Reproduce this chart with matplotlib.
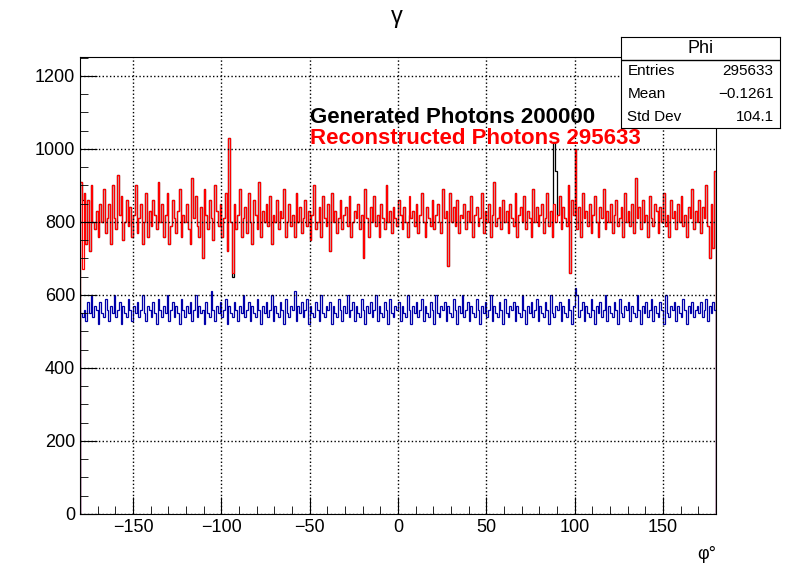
import numpy as np
import matplotlib
matplotlib.use("Agg")
import matplotlib.pyplot as plt
from matplotlib.ticker import MultipleLocator

plt.rcParams["font.family"] = "Liberation Sans"

# 1-degree bins, phi from -180 to 180
BIN_EDGES = np.arange(-180, 181, 1)

RECO = [
    910, 670, 880, 740, 860, 720, 900, 800, 780, 830, 760, 850, 800, 890, 770, 810, 850, 740, 900, 810,
    780, 930, 820, 870, 750, 800, 860, 790, 840, 760, 820, 900, 770, 810, 850, 740, 800, 880, 760, 830,
    790, 860, 820, 780, 910, 800, 850, 760, 820, 880, 740, 790, 860, 810, 770, 830, 890, 760, 820, 800,
    850, 780, 740, 920, 810, 870, 790, 760, 840, 700, 890, 820, 780, 860, 810, 750, 900, 830, 790, 850,
    760, 810, 880, 720, 1030, 800, 660, 850, 780, 820, 890, 760, 810, 840, 770, 880, 800, 740, 860, 820,
    780, 910, 760, 830, 800, 850, 790, 870, 740, 820, 800, 860, 780, 830, 810, 890, 760, 800, 850, 790,
    820, 760, 880, 800, 840, 770, 810, 860, 790, 830, 750, 820, 900, 780, 800, 840, 760, 870, 810, 790,
    850, 720, 880, 800, 830, 770, 810, 860, 780, 820, 840, 790, 870, 760, 800, 830, 810, 850, 780, 820,
    700, 890, 810, 760, 840, 800, 870, 790, 820, 760, 850, 810, 780, 900, 800, 830, 770, 840, 810, 790,
    860, 820, 780, 840, 800, 760, 870, 810, 830, 790, 850, 770, 820, 880, 800, 760, 840, 810, 790, 860,
    780, 820, 850, 800, 770, 890, 810, 830, 680, 880, 800, 840, 790, 860, 770, 820, 810, 850, 780, 830,
    800, 870, 760, 820, 840, 790, 810, 880, 770, 830, 800, 850, 760, 820, 910, 790, 810, 840, 780, 860,
    800, 830, 770, 850, 810, 790, 880, 760, 820, 840, 800, 870, 780, 830, 810, 760, 890, 800, 840, 790,
    820, 850, 770, 810, 880, 790, 830, 760, 850, 800, 820, 870, 780, 840, 810, 790, 900, 660, 860, 820,
    1000, 780, 840, 760, 880, 810, 830, 790, 850, 770, 820, 870, 800, 760, 840, 810, 890, 780, 830, 800,
    850, 770, 820, 860, 790, 810, 840, 760, 880, 800, 830, 790, 850, 770, 920, 810, 840, 780, 860, 800,
    820, 760, 870, 810, 790, 850, 830, 770, 840, 800, 880, 790, 820, 760, 860, 810, 830, 780, 850, 800,
    870, 790, 820, 760, 840, 810, 890, 780, 830, 800, 860, 770, 840, 810, 900, 790, 700, 850, 730, 940,
]
GEN = [
    550, 540, 560, 530, 580, 550, 600, 540, 570, 560, 520, 580, 550, 540, 590, 560, 530, 570, 550, 600,
    540, 560, 580, 520, 570, 550, 540, 590, 560, 530, 570, 550, 580, 540, 560, 600, 550, 530, 570, 560,
    540, 580, 550, 520, 590, 560, 540, 570, 550, 600, 530, 560, 580, 540, 570, 550, 520, 590, 560, 540,
    570, 550, 580, 530, 560, 600, 540, 570, 550, 560, 520, 580, 550, 540, 610, 560, 530, 570, 550, 580,
    540, 560, 590, 520, 570, 550, 540, 580, 560, 530, 570, 550, 600, 540, 560, 580, 530, 570, 550, 540,
    590, 560, 520, 570, 550, 580, 540, 560, 600, 530, 570, 550, 540, 580, 560, 520, 590, 550, 540, 570,
    560, 610, 530, 570, 550, 580, 540, 560, 590, 520, 570, 550, 540, 580, 560, 530, 600, 550, 540, 570,
    560, 580, 520, 570, 550, 540, 590, 560, 530, 570, 550, 600, 540, 560, 580, 530, 570, 550, 540, 590,
    560, 520, 570, 550, 580, 540, 560, 600, 530, 570, 550, 540, 580, 560, 520, 590, 550, 540, 570, 560,
    580, 530, 570, 550, 540, 600, 560, 520, 570, 550, 580, 540, 560, 590, 530, 570, 550, 540, 580, 560,
    520, 600, 550, 540, 570, 560, 580, 530, 570, 550, 540, 590, 560, 520, 570, 550, 600, 540, 560, 580,
    530, 570, 550, 540, 590, 560, 520, 570, 550, 580, 540, 560, 600, 530, 570, 550, 540, 580, 560, 520,
    590, 550, 540, 570, 560, 580, 530, 570, 550, 540, 600, 560, 520, 570, 550, 580, 540, 560, 590, 530,
    570, 550, 540, 580, 560, 520, 600, 550, 540, 570, 560, 580, 530, 570, 550, 540, 590, 560, 520, 570,
    620, 600, 540, 560, 580, 530, 570, 550, 540, 590, 560, 520, 570, 550, 580, 540, 560, 600, 530, 570,
    550, 540, 580, 560, 520, 590, 550, 540, 570, 560, 580, 530, 570, 550, 540, 600, 560, 520, 570, 550,
    580, 540, 560, 590, 530, 570, 550, 540, 580, 560, 520, 600, 550, 540, 570, 560, 580, 530, 570, 550,
    540, 590, 560, 520, 570, 550, 580, 540, 560, 570, 550, 580, 540, 560, 590, 530, 570, 550, 580, 560,
]
# black reference histogram: same as RECO except where it peeks out
BLACK_OVERRIDE = {1: 860, 86: 650, 186: 820, 268: 1020, 269: 940}

STATS = [("Entries", "295633"), ("Mean", "\u22120.1261"), ("Std Dev", "104.1")]

reco = np.array(RECO, float)
gen = np.array(GEN, float)
black = reco.copy()
for i, v in BLACK_OVERRIDE.items():
    black[i] = v

fig = plt.figure(figsize=(7.96, 5.72), dpi=100)
ax = fig.add_axes([80 / 796, 1 - 514 / 572, 636 / 796, 457 / 572])
ax.stairs(black, BIN_EDGES, color="black", lw=0.9)
ax.stairs(reco, BIN_EDGES, color="red", lw=0.9)
ax.stairs(gen, BIN_EDGES, color="#0000aa", lw=0.9)

ax.set_xlim(-180, 180)
ax.set_ylim(0, 1252)
ax.xaxis.set_minor_locator(MultipleLocator(10))
ax.yaxis.set_major_locator(MultipleLocator(200))
ax.yaxis.set_minor_locator(MultipleLocator(50))
ax.set_xticks(np.arange(-150, 151, 50))
ax.set_xticklabels(["\u2212150", "\u2212100", "\u221250", "0", "50", "100", "150"])
ax.tick_params(which="both", direction="in", top=False, right=False, labelsize=13)
ax.tick_params(which="major", length=12)
ax.tick_params(which="minor", length=6)
ax.grid(True, which="major", ls=":", color="black", lw=1)
ax.text(1.0, -0.07, "\u03c6\u00b0", transform=ax.transAxes, ha="right", va="top", fontsize=13)

fig.text(397 / 796, 1 - 17 / 572, "\u03b3", ha="center", va="center", fontsize=17)
ax.text(-50, 1085, "Generated Photons 200000", fontsize=16, fontweight="bold", color="black", va="center")
ax.text(-50, 1030, "Reconstructed Photons 295633", fontsize=16, fontweight="bold", color="red", va="center")

# stats box
bx = fig.add_axes([621 / 796, 1 - 128 / 572, 159 / 796, 91 / 572])
bx.set_xticks([]); bx.set_yticks([])
bx.set_xlim(0, 1); bx.set_ylim(0, 4)
bx.axhline(3, color="black", lw=1)
bx.text(0.5, 3.5, "Phi", ha="center", va="center", fontsize=13)
for k, (lab, val) in enumerate(STATS):
    y = 2.5 - k
    bx.text(0.04, y, lab, ha="left", va="center", fontsize=11)
    bx.text(0.96, y, val, ha="right", va="center", fontsize=11)

fig.savefig("out.png", dpi=100)
